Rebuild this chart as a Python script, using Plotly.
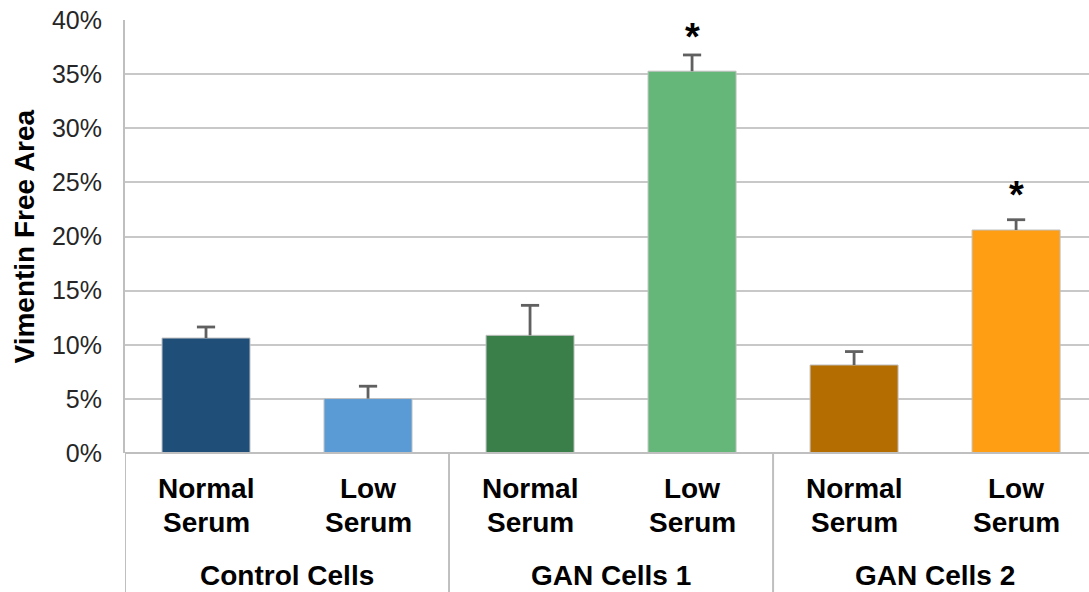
import plotly.graph_objects as go

# ---- data ----
conditions = ["Normal Serum", "Low Serum", "Normal Serum", "Low Serum", "Normal Serum", "Low Serum"]
groups = ["Control Cells", "GAN Cells 1", "GAN Cells 2"]
values = [10.62, 5.03, 10.87, 35.27, 8.13, 20.6]
errors = [1.02, 1.14, 2.77, 1.5, 1.24, 0.95]
significant = [False, False, False, True, False, True]
colors = ["#1F4E79", "#5B9BD5", "#3A7E4A", "#65B779", "#B36D00", "#FF9E12"]
y_ticks = [0, 5, 10, 15, 20, 25, 30, 35, 40]
y_ticklabels = [f"{v}%" for v in y_ticks]

W, H = 1089, 592
ML, MR, MT, MB = 125, 0, 20, 139
PH = H - MT - MB
x_pos = list(range(len(values)))
star_shift = {3: -5, 5: 2}
ERR_COLOR = "#606060"

def py(px):
    """pixel y (from top) -> paper y"""
    return (H - MB - px) / PH

fig = go.Figure()
fig.add_trace(go.Bar(
    x=x_pos, y=values, width=0.543,
    marker=dict(color=colors, line=dict(color="#BFBFBF", width=1)),
    showlegend=False, hoverinfo="skip",
))

# error bar stems (plus direction only) and caps
stem_x, stem_y = [], []
for i, (v, e) in enumerate(zip(values, errors)):
    stem_x += [i, i, None]
    stem_y += [v, v + e, None]
fig.add_trace(go.Scatter(x=stem_x, y=stem_y, mode="lines",
                         line=dict(color=ERR_COLOR, width=2.8),
                         showlegend=False, hoverinfo="skip"))
fig.add_trace(go.Scatter(x=x_pos, y=[v + e for v, e in zip(values, errors)], mode="markers",
                         marker=dict(symbol="line-ew", size=13,
                                     line=dict(color=ERR_COLOR, width=2.8)),
                         showlegend=False, hoverinfo="skip"))

annotations = []
font_bold = dict(family="Liberation Sans, Arial, sans-serif", size=28, color="#000000")
font_star = dict(family="Liberation Sans, Arial, sans-serif", size=38, color="#000000")
for i, cond in enumerate(conditions):
    l1, l2 = cond.split(" ")
    annotations.append(dict(x=i, y=py(488), xref="x", yref="paper", text=f"<b>{l1}</b>",
                            showarrow=False, font=font_bold, yanchor="middle"))
    annotations.append(dict(x=i, y=py(522), xref="x", yref="paper", text=f"<b>{l2}</b>",
                            showarrow=False, font=font_bold, yanchor="middle"))
    if significant[i]:
        annotations.append(dict(x=i, y=values[i] + errors[i], xref="x", yref="y", text="<b>*</b>",
                                showarrow=False, font=font_star, yanchor="bottom",
                                yshift=star_shift.get(i, 0)))
for g, name in enumerate(groups):
    annotations.append(dict(x=2 * g + 0.5, y=py(575), xref="x", yref="paper", text=f"<b>{name}</b>",
                            showarrow=False, font=font_bold, yanchor="middle"))
annotations.append(dict(x=(24 - ML) / (W - ML - MR), y=0.5, xref="paper", yref="paper",
                        text="<b>Vimentin Free Area</b>", textangle=-90, showarrow=False,
                        font=font_bold, xanchor="center", yanchor="middle"))

shapes = [dict(type="line", xref="paper", yref="paper", x0=0, x1=1, y0=0, y1=0,
               line=dict(color="#BFBFBF", width=2))]
for xd in [-0.5, 1.5, 3.5]:
    shapes.append(dict(type="line", xref="x", yref="paper", x0=xd, x1=xd, y0=0, y1=-MB / PH,
                       line=dict(color="#BFBFBF", width=2)))

fig.update_layout(
    width=W, height=H,
    margin=dict(l=ML, r=MR, t=MT, b=MB),
    paper_bgcolor="white", plot_bgcolor="white",
    xaxis=dict(range=[-0.5, 5.45], showticklabels=False, showgrid=False, zeroline=False,
               showline=False, fixedrange=True),
    yaxis=dict(range=[0, 40], tickvals=y_ticks, ticktext=y_ticklabels, showgrid=True,
               gridcolor="#C8C8C8", gridwidth=2, zeroline=False, showline=True,
               linecolor="#BFBFBF", linewidth=2, ticks="", ticklabelstandoff=16,
               tickfont=dict(family="Liberation Sans, Arial, sans-serif", size=25, color="#262626")),
    annotations=annotations, shapes=shapes,
)
fig.write_html("out.html", config={"displayModeBar": False},
               post_script="document.body.style.margin='0';document.body.style.overflow='hidden';")
